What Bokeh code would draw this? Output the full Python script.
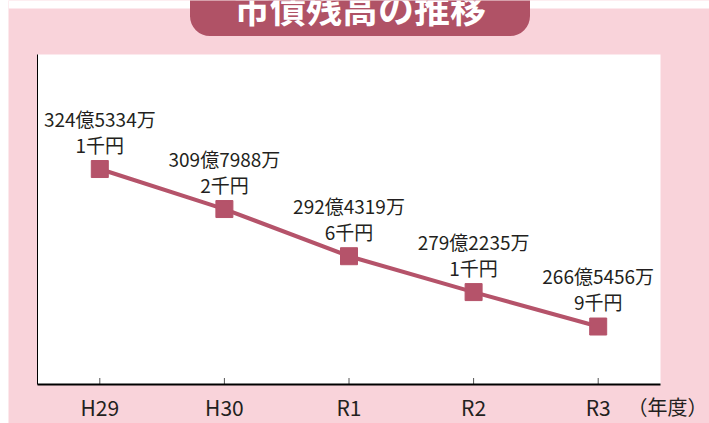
from bokeh.plotting import figure
from bokeh.models import ColumnDataSource, Range1d, Label
from bokeh.core.properties import value
from bokeh.embed import file_html
from bokeh.resources import INLINE

# --- data ---
years = ["H29", "H30", "R1", "R2", "R3"]
debt_sen_yen = [32453341, 30979882, 29243196, 27922351, 26654569]  # 単位: 千円
title_text = "市債残高の推移"
unit_text = "（年度）"

xs = list(range(len(years)))
oku = [v / 100000 for v in debt_sen_yen]
line1 = [f"{v // 100000}億{(v % 100000) // 10}万" for v in debt_sen_yen]
line2 = [f"{v % 10}千円" for v in debt_sen_yen]

# --- layout (page pixels) ---
W, H = 701, 423            # canvas, placed at page x=8, y=0
CANVAS_L, CANVAS_T = 8, 0
PL, PR, PT, PB = 37, 660, 54, 384   # plot area box on the page
Y_LO, Y_HI = 245.2, 366.7           # value range of the plot area
X_LO, X_HI = -0.5, len(years) - 0.5

sx = (PR - PL) / (X_HI - X_LO)
sy = (PB - PT) / (Y_HI - Y_LO)
def px_x(px):
    return X_LO + (px - PL) / sx
def px_y(py):
    return Y_LO + (PB - py) / sy

PINK = "#f9d3da"
ROSE = "#b5536a"
BANNER = "#b05266"
FONT = "Noto Sans CJK JP"
TXT = "#231f20"

p = figure(width=W, height=H,
           x_range=Range1d(px_x(CANVAS_L), px_x(CANVAS_L + W)),
           y_range=Range1d(px_y(CANVAS_T + H), px_y(CANVAS_T)),
           output_backend="svg", toolbar_location=None, min_border=0,
           margin=(0, 0, 0, 8))
p.axis.visible = False
p.grid.visible = False
p.outline_line_color = None
p.background_fill_color = PINK
p.border_fill_color = PINK

# white page strip above the pink panel
p.quad(left=px_x(CANVAS_L), right=px_x(CANVAS_L + W), bottom=px_y(8), top=px_y(CANVAS_T),
       fill_color="white", line_color=None)
# white plot area
p.quad(left=X_LO, right=X_HI, bottom=Y_LO, top=Y_HI, fill_color="white", line_color=None)

src = ColumnDataSource(dict(x=xs, y=oku, l1=line1, l2=line2, lab=years))

# axes
p.segment(x0=X_LO, y0=Y_LO, x1=X_LO, y1=Y_HI, line_color="black", line_width=1)
p.segment(x0=xs, y0=[Y_LO] * len(xs), x1=xs, y1=[Y_LO + 6.5 / sy] * len(xs),
          line_color="#555555", line_width=1)
p.segment(x0=X_LO, y0=Y_LO, x1=X_HI, y1=Y_LO, line_color="black", line_width=2)
p.text(x="x", y=Y_LO, text="lab", source=src, text_align="center", text_baseline="alphabetic",
       y_offset=22, text_font=value(FONT), text_font_size="21px", text_color=TXT)
p.text(x=[px_x(667)], y=[Y_LO], text=[unit_text], text_align="center", text_baseline="alphabetic",
       y_offset=22, text_font=value(FONT), text_font_size="20px", text_color=TXT)

# series
p.line("x", "y", source=src, line_color=ROSE, line_width=4)
p.scatter("x", "y", source=src, marker="square", size=17, fill_color=ROSE, line_color=ROSE)

p.text("x", "y", text="l1", source=src, text_align="center", text_baseline="alphabetic",
       y_offset=-51, text_font=value(FONT), text_font_size="19px", text_color=TXT)
p.text("x", "y", text="l2", source=src, text_align="center", text_baseline="alphabetic",
       y_offset=-25, text_font=value(FONT), text_font_size="19px", text_color=TXT)

# title banner (padding: left, right, top, bottom)
p.add_layout(Label(x=px_x(359.5), y=px_y(-2), text=title_text,
                   text_align="center", text_baseline="alphabetic",
                   text_font=FONT, text_font_size="36px", text_font_style="bold", text_color="white",
                   background_fill_color=BANNER, border_radius=20, padding=(44, 44, 20, 3)))

open("out.html", "w").write(file_html(p, INLINE))
